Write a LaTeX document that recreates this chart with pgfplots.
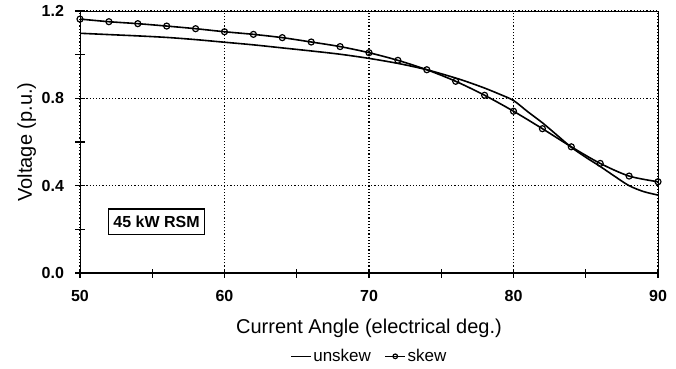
\documentclass[border=0pt]{standalone}
\usepackage{pgfplots}
\pgfplotsset{compat=1.18}
\usepackage{fontspec}
\setmainfont{Liberation Sans}
\begin{document}
\begin{tikzpicture}[x=1pt,y=1pt]
\path[use as bounding box] (0,0) rectangle (676,368);
\begin{axis}[
  at={(80pt,95pt)}, anchor=south west,
  scale only axis, width=578pt, height=262pt,
  xmin=50, xmax=90, ymin=0, ymax=1.2,
  xtick={50,60,70,80,90}, ytick={0,0.4,0.8,1.2},
  minor xtick={55,65,75,85}, minor ytick={0.2,0.6,1.0},
  xtick pos=left, ytick pos=left,
  tick align=center, major tick length=9pt, minor tick length=9pt,
  every tick/.style={black, line width=1.3pt},
  grid=major,
  major grid style={black, line width=1.2pt, dotted},
  axis line style={black, line width=0.9pt},
  /pgf/number format/assume math mode=true,
  y tick label style={/pgf/number format/fixed, /pgf/number format/fixed zerofill, /pgf/number format/precision=1},
  ticklabel style={font=\fontsize{16}{18}\selectfont\bfseries},
  xticklabel style={anchor=center, yshift=-18pt},
  yticklabel style={anchor=east, xshift=-8pt},
  xlabel={Current Angle (electrical deg.)},
  ylabel={Voltage (p.u.)},
  label style={font=\fontsize{20}{24}\selectfont},
  xlabel style={at={(axis description cs:0.5,-0.21)}, anchor=center},
  ylabel style={at={(axis description cs:-0.092,0.5)}, anchor=center},
  legend columns=2,
  legend style={at={(0.5,-0.318)}, anchor=center, draw=none, fill=none,
    font=\fontsize{17}{19}\selectfont, nodes={inner xsep=1.5pt, inner ysep=1pt},
    /tikz/every even column/.append style={column sep=12pt}},
  legend image code/.code={\draw[mark repeat=2, mark phase=2, #1, mark size=2.3pt] plot coordinates {(0pt,0pt) (10pt,0pt) (20pt,0pt)};},
]
\addplot[black, line width=1.6pt, smooth, no markers] coordinates {
(50,1.098) (52,1.092) (54,1.086) (56,1.079) (58,1.069) (60,1.057)
(62,1.045) (64,1.031) (66,1.017) (68,1.002) (70,0.983) (72,0.960)
(74,0.931) (76,0.893) (77,0.871) (78,0.847) (79,0.820) (80,0.790)
(81,0.738) (82,0.688) (83,0.632) (84,0.576) (85,0.530) (86,0.488)
(87,0.443) (88,0.400) (89,0.373) (90,0.357)
};
\addlegendentry{unskew}
\addplot[black, line width=1.6pt, smooth, mark=o, mark size=3pt,
  mark options={fill=white, line width=1.2pt}] coordinates {
(50,1.163) (52,1.151) (54,1.142) (56,1.131) (58,1.119) (60,1.105)
(62,1.093) (64,1.078) (66,1.058) (68,1.037) (70,1.009) (72,0.974)
(74,0.931) (76,0.878) (78,0.814) (80,0.741) (82,0.661) (84,0.578)
(86,0.502) (88,0.444) (90,0.418)
};
\addlegendentry{skew}
\draw[black, line width=2.2pt] (rel axis cs:0,1) -- (rel axis cs:0,0) -- (rel axis cs:1,0);
\node[draw, line width=1.3pt, fill=white, inner xsep=5pt, inner ysep=7pt,
  font=\fontsize{16}{18}\selectfont\bfseries] at (axis cs:55.3,0.234) {45 kW RSM};
\end{axis}
\end{tikzpicture}
\end{document}
